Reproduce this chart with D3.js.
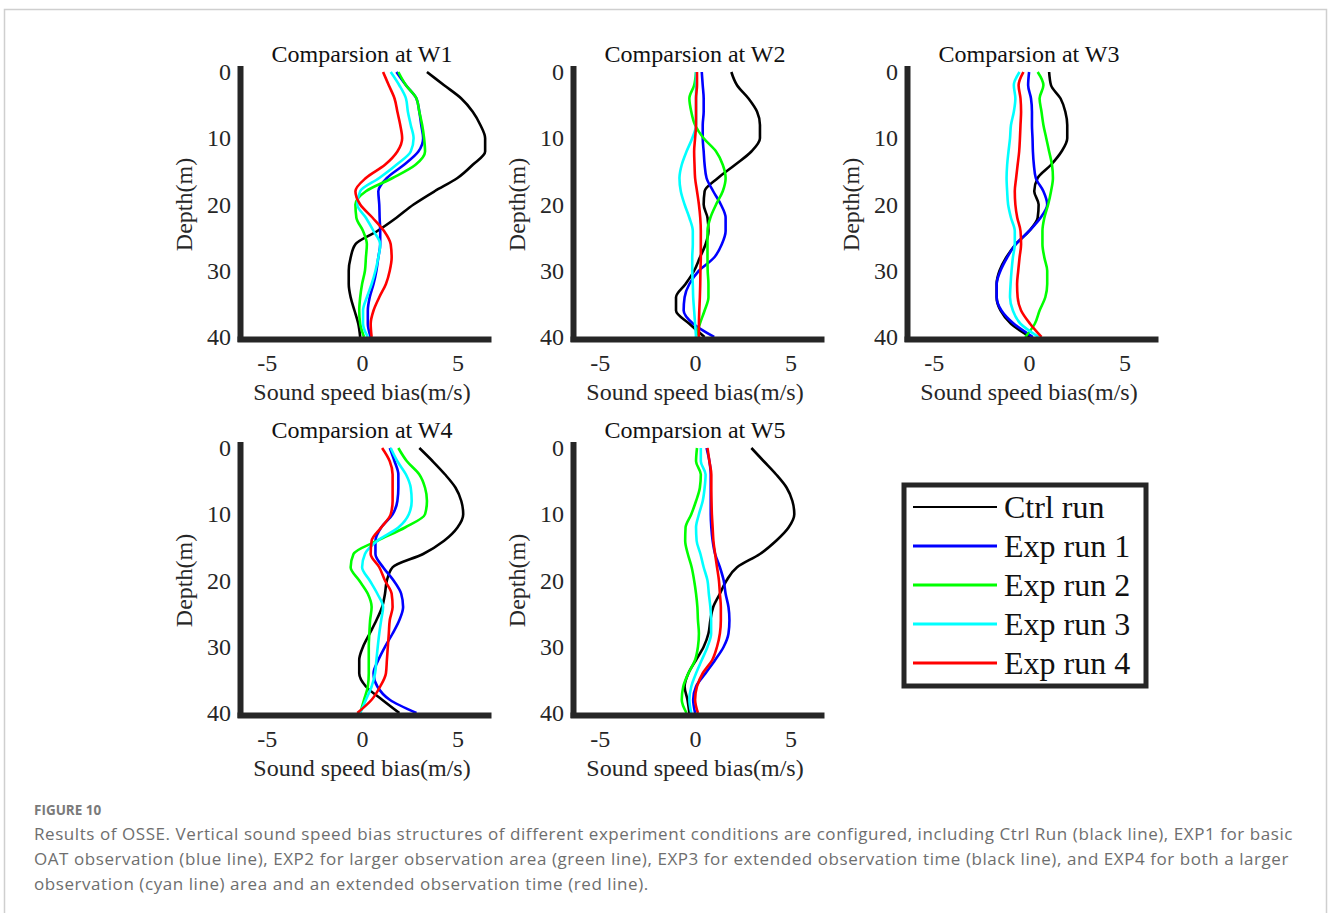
<!DOCTYPE html>
<html>
<head>
<meta charset="utf-8">
<script src="https://cdn.jsdelivr.net/npm/d3@7"></script>
<style>
  body { margin: 0; background: #fff; }
  .ax text { font-family: "Liberation Serif", "Times New Roman", serif; font-size: 24px; fill: #262626; }
</style>
</head>
<body>
<svg id="fig" width="1328" height="913"></svg>
<script>
// depth levels (m) shared by every profile
const depths = [0, 2, 4, 6, 8, 10, 12, 14, 16, 18, 20, 22, 24, 26, 28, 30, 32, 34, 36, 38, 40];
const runNames = ["Ctrl run", "Exp run 1", "Exp run 2", "Exp run 3", "Exp run 4"];
const runColors = ["#000000", "#0000ff", "#00ff00", "#00ffff", "#ff0000"];
const wellNames = ["W1", "W2", "W3", "W4", "W5"];
const xTicks = [-5, 0, 5];
const yTicks = [0, 10, 20, 30, 40];

// sound speed bias (m/s) per run: ctrl, exp1, exp2, exp3, exp4
const w1 = [
  [3.4, 4.3, 5.2, 5.8, 6.2, 6.45, 6.45, 5.8, 5.0, 3.8, 2.7, 1.8, 0.8, -0.35, -0.6, -0.7, -0.7, -0.6, -0.4, -0.2, -0.1],
  [1.8, 2.3, 2.85, 3.0, 3.1, 3.2, 2.95, 2.2, 1.3, 0.85, 0.9, 0.92, 0.95, 0.95, 0.85, 0.75, 0.6, 0.4, 0.3, 0.3, 0.45],
  [1.9, 2.3, 2.85, 3.0, 3.15, 3.25, 3.3, 2.8, 1.6, 0.2, -0.35, -0.3, 0.05, 0.25, 0.2, 0.15, 0.0, -0.1, -0.15, -0.1, 0.1],
  [1.5, 1.95, 2.3, 2.4, 2.55, 2.7, 2.55, 1.8, 0.9, -0.1, -0.25, 0.2, 0.6, 0.95, 0.85, 0.7, 0.5, 0.25, 0.05, 0.05, 0.3],
  [1.1, 1.4, 1.7, 1.85, 2.0, 2.1, 1.85, 1.2, 0.2, -0.35, -0.1, 0.55, 1.15, 1.5, 1.55, 1.45, 1.25, 0.9, 0.6, 0.45, 0.5]
];
const w2 = [
  [1.9, 2.2, 2.8, 3.25, 3.4, 3.4, 2.95, 2.1, 1.2, 0.5, 0.45, 0.65, 0.7, 0.55, 0.25, -0.05, -0.5, -1.0, -1.0, -0.3, 0.5],
  [0.35, 0.4, 0.45, 0.45, 0.4, 0.4, 0.45, 0.5, 0.6, 0.95, 1.35, 1.6, 1.6, 1.4, 1.0, 0.2, -0.3, -0.55, -0.6, -0.1, 1.0],
  [0.05, -0.05, -0.3, -0.2, 0.0, 0.45, 1.1, 1.45, 1.6, 1.45, 1.1, 0.8, 0.65, 0.65, 0.65, 0.66, 0.7, 0.7, 0.5, 0.25, 0.05],
  [0.05, 0.05, 0.05, 0.05, 0.05, -0.15, -0.45, -0.7, -0.82, -0.75, -0.55, -0.3, -0.12, -0.12, -0.15, -0.15, -0.12, -0.1, -0.05, 0.0, 0.05],
  [0.1, 0.1, 0.05, 0.05, 0.05, 0.0, -0.05, -0.03, 0.0, 0.1, 0.2, 0.27, 0.3, 0.3, 0.3, 0.28, 0.27, 0.25, 0.22, 0.2, 0.2]
];
const w3 = [
  [1.05, 1.15, 1.65, 1.9, 2.0, 2.0, 1.7, 1.15, 0.45, 0.27, 0.5, 0.45, 0.0, -0.7, -1.2, -1.55, -1.7, -1.7, -1.5, -0.95, 0.05],
  [0.0, -0.05, 0.1, 0.15, 0.15, 0.18, 0.2, 0.25, 0.35, 0.75, 0.95, 0.6, 0.0, -0.7, -1.15, -1.5, -1.7, -1.7, -1.45, -0.8, 0.2],
  [0.45, 0.75, 0.55, 0.65, 0.75, 0.9, 1.05, 1.2, 1.25, 1.15, 1.0, 0.8, 0.7, 0.7, 0.8, 0.95, 0.95, 0.85, 0.55, 0.3, -0.2],
  [-0.5, -0.8, -0.72, -0.8, -0.95, -1.0, -1.08, -1.15, -1.18, -1.15, -1.1, -0.95, -0.75, -0.75, -0.85, -0.92, -0.97, -1.0, -0.85, -0.45, 0.5],
  [-0.3, -0.55, -0.45, -0.42, -0.45, -0.48, -0.52, -0.6, -0.68, -0.75, -0.72, -0.62, -0.45, -0.42, -0.5, -0.57, -0.63, -0.6, -0.42, 0.05, 0.65]
];
const w4 = [
  [3.0, 3.7, 4.35, 4.9, 5.2, 5.3, 5.0, 4.3, 3.2, 1.6, 1.3, 1.2, 1.05, 0.75, 0.4, 0.05, -0.15, -0.15, 0.2, 1.05, 1.95],
  [1.45, 1.7, 1.9, 1.9, 1.85, 1.6, 1.0, 0.7, 0.7, 1.1, 1.65, 2.05, 2.15, 1.95, 1.6, 1.2, 0.85, 0.6, 0.8, 1.45, 2.85],
  [1.9, 2.35, 3.0, 3.3, 3.4, 3.3, 2.25, 0.8, -0.45, -0.6, -0.15, 0.3, 0.5, 0.42, 0.38, 0.35, 0.35, 0.35, 0.3, 0.1, -0.1],
  [1.5, 1.85, 2.3, 2.55, 2.6, 2.45, 1.9, 0.8, 0.15, 0.0, 0.4, 0.8, 1.1, 1.0, 0.9, 0.82, 0.75, 0.68, 0.5, 0.2, -0.1],
  [1.05, 1.45, 1.6, 1.6, 1.6, 1.5, 1.0, 0.5, 0.45, 0.9, 1.2, 1.55, 1.6, 1.45, 1.4, 1.35, 1.3, 1.25, 0.95, 0.5, -0.25]
];
const w5 = [
  [2.95, 3.6, 4.25, 4.8, 5.1, 5.2, 4.9, 4.25, 3.4, 2.2, 1.65, 1.3, 0.95, 0.8, 0.7, 0.45, 0.05, -0.35, -0.55, -0.4, -0.3],
  [0.6, 0.75, 0.82, 0.82, 0.82, 0.82, 0.85, 0.92, 1.05, 1.3, 1.5, 1.6, 1.75, 1.8, 1.75, 1.5, 1.05, 0.55, 0.05, -0.1, 0.0],
  [0.1, 0.05, 0.3, 0.25, 0.05, -0.2, -0.5, -0.52, -0.38, -0.18, -0.05, 0.05, 0.12, 0.15, 0.2, 0.15, 0.0, -0.35, -0.62, -0.7, -0.45],
  [0.3, 0.3, 0.55, 0.5, 0.4, 0.2, 0.05, 0.08, 0.28, 0.45, 0.65, 0.72, 0.8, 0.84, 0.84, 0.65, 0.35, 0.05, -0.2, -0.3, -0.2],
  [0.65, 0.75, 0.85, 0.85, 0.86, 0.88, 0.92, 0.96, 1.05, 1.15, 1.25, 1.3, 1.35, 1.35, 1.3, 1.15, 0.9, 0.4, 0.1, 0.0, 0.15]
];

const wells = [w1, w2, w3, w4, w5];
const panelPos = [[240, 72], [573, 72], [907, 72], [240, 448], [573, 448]];

const pw = 248, ph = 265;
const axisColor = "#262626";
const svg = d3.select("#fig");

// thin frame around the figure
svg.append("rect")
  .attr("x", 4.5).attr("y", 9.5).attr("width", 1322).attr("height", 920)
  .attr("fill", "none").attr("stroke", "#cfcfcf").attr("stroke-width", 1.5);

const x = d3.scaleLinear().domain([-6.4, 6.6]).range([0, pw]);
const y = d3.scaleLinear().domain([0, 40]).range([0, ph]);

const line = d3.line()
  .x((d) => x(d.v))
  .y((d) => y(d.d))
  .curve(d3.curveMonotoneY);

wells.forEach((runs, wi) => {
  const [left, top] = panelPos[wi];
  const g = svg.append("g").attr("transform", `translate(${left},${top})`);

  runs.forEach((vals, ri) => {
    g.append("path")
      .datum(vals.map((v, i) => ({ d: depths[i], v: v })))
      .attr("fill", "none")
      .attr("stroke", runColors[ri])
      .attr("stroke-width", 2.6)
      .attr("stroke-linejoin", "round")
      .attr("d", line);
  });

  const xa = g.append("g").attr("class", "ax")
    .attr("transform", `translate(0,${ph + 2})`)
    .call(d3.axisBottom(x).tickValues(xTicks).tickSize(0).tickSizeOuter(0).tickPadding(15).tickFormat((d) => String(d)));
  const ya = g.append("g").attr("class", "ax")
    .call(d3.axisLeft(y).tickValues(yTicks).tickSize(0).tickSizeOuter(0).tickPadding(9).tickFormat((d) => String(d)));

  [xa, ya].forEach((a) => {
    a.select(".domain")
      .attr("stroke", axisColor)
      .attr("stroke-width", 6)
      .attr("stroke-linecap", "square");
  });
  ya.select(".domain").attr("d", `M0.5,-3V${ph + 2}`);

  g.append("text")
    .attr("x", pw / 2 - 2).attr("y", -10)
    .attr("text-anchor", "middle")
    .style("font-family", "Liberation Serif, serif").style("font-size", "24px").attr("fill", "#111")
    .text("Comparsion at " + wellNames[wi]);

  g.append("text")
    .attr("x", pw / 2 - 2).attr("y", ph + 63)
    .attr("text-anchor", "middle")
    .style("font-family", "Liberation Serif, serif").style("font-size", "24px").attr("fill", axisColor)
    .text("Sound speed bias(m/s)");

  g.append("text")
    .attr("transform", `translate(-48,${ph / 2}) rotate(-90)`)
    .attr("text-anchor", "middle")
    .style("font-family", "Liberation Serif, serif").style("font-size", "24px").attr("fill", axisColor)
    .text("Depth(m)");
});

// legend
const lg = svg.append("g");
lg.append("rect")
  .attr("x", 904).attr("y", 485).attr("width", 242).attr("height", 201)
  .attr("fill", "#fff").attr("stroke", axisColor).attr("stroke-width", 5);
runNames.forEach((name, i) => {
  const ly = 507 + i * 39;
  lg.append("line")
    .attr("x1", 913).attr("x2", 997).attr("y1", ly).attr("y2", ly)
    .attr("stroke", runColors[i]).attr("stroke-width", i === 0 ? 2 : 3);
  lg.append("text")
    .attr("x", 1004).attr("y", ly + 11)
    .style("font-family", "Liberation Serif, serif").style("font-size", "32px").attr("fill", "#111")
    .text(name);
});

// caption
const captionLines = [
  "Results of OSSE. Vertical sound speed bias structures of different experiment conditions are configured, including Ctrl Run (black line), EXP1 for basic",
  "OAT observation (blue line), EXP2 for larger observation area (green line), EXP3 for extended observation time (black line), and EXP4 for both a larger",
  "observation (cyan line) area and an extended observation time (red line)."
];
svg.append("text")
  .attr("x", 34).attr("y", 815)
  .style("font-family", "Open Sans, sans-serif").style("font-size", "13.5px").style("font-weight", "bold")
  .attr("fill", "#7a7a7a")
  .text("FIGURE 10");
const capTexts = captionLines.map((t, i) =>
  svg.append("text")
    .attr("x", 34).attr("y", 840 + i * 25)
    .style("font-family", "Open Sans, sans-serif").style("font-size", "17px")
    .attr("fill", "#6e6e6e")
    .text(t)
);
// stretch letter spacing so the first line spans the same width as the original
const w0 = capTexts[0].node().getComputedTextLength();
const ls = (1259 - w0) / captionLines[0].length;
capTexts.forEach((t) => t.style("letter-spacing", ls + "px"));
</script>
</body>
</html>
